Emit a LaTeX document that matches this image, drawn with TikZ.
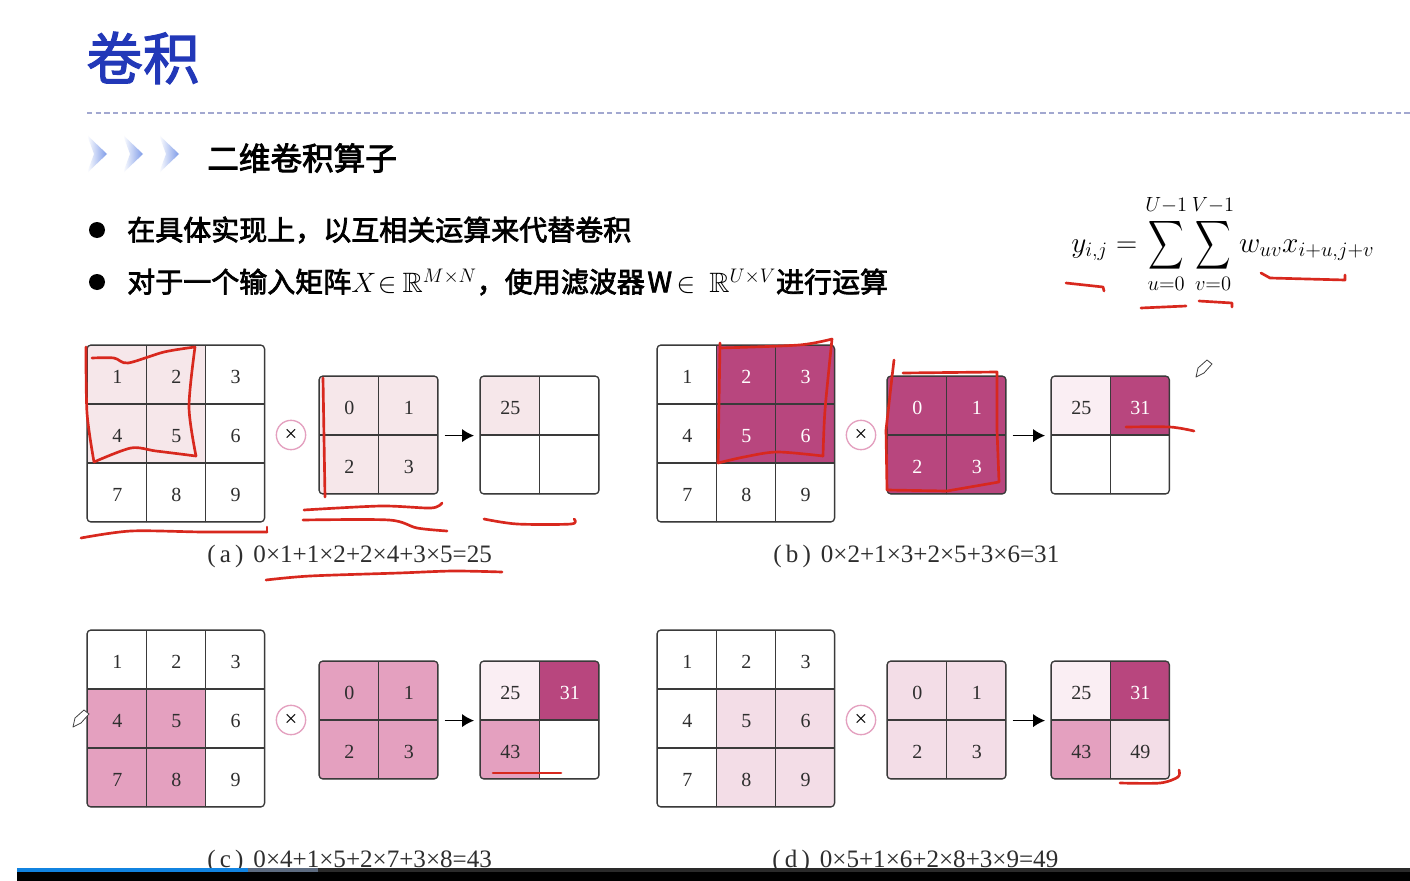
\RequirePackage{fix-cm}
\documentclass[tikz,border=0pt]{standalone}
\usepackage{amsmath,amssymb}
\usepackage{fontspec}
\setmainfont{Liberation Serif}
\newfontfamily\cjk[FakeBold=2.6]{Noto Sans CJK SC}
\newfontfamily\cjktitle[FakeBold=2]{Noto Sans CJK SC}
\usetikzlibrary{arrows.meta}
\definecolor{inkred}{HTML}{D8281E}
\definecolor{gridline}{HTML}{3A3A3A}
\definecolor{digit}{HTML}{2E2E2E}
\definecolor{titleblue}{HTML}{2238B8}
\definecolor{fillpale}{HTML}{F6E7EA}
\definecolor{fillfaint}{HTML}{FAEEF3}
\definecolor{filldark}{HTML}{B8467E}
\definecolor{fillmid}{HTML}{E4A0BF}
\definecolor{filllight}{HTML}{F3DDE7}
\definecolor{chevronblue}{HTML}{7E9BE8}
\definecolor{ruleblue}{HTML}{A2A8D0}
\definecolor{barblue}{HTML}{1183E0}
\definecolor{bargray}{HTML}{5D6B80}
\definecolor{bardark}{HTML}{2A2A2A}
\tikzset{
  gridcell/.style={draw=gridline,line width=0.9pt,inner sep=0pt,text=digit,font=\fontsize{15}{15}\selectfont},
  cnone/.style={fill=white},
  cpale/.style={fill=fillpale},
  cfaint/.style={fill=fillfaint},
  cdark/.style={fill=filldark,text=white},
  cmid/.style={fill=fillmid},
  clight/.style={fill=filllight},
  gridedge/.style={draw=gridline,line width=1pt,rounded corners=3pt},
  timesmark/.style={circle,draw=fillmid,fill=white,line width=1pt,minimum size=22pt,inner sep=0pt,text=black,font=\fontsize{17}{17}\selectfont},
  flowarrow/.style={line width=1.2pt,-{Latex[length=9pt,width=10pt]},shorten >=4pt,shorten <=4.5pt},
  redink/.style={draw=inkred,line width=2pt,line cap=round,line join=round},
  caption/.style={anchor=west,inner sep=0pt,text=digit,font=\fontsize{18.8}{19}\selectfont},
  bodyline/.style={anchor=west,inner sep=0pt,text=black,font=\cjk\fontsize{21}{21}\selectfont},
  pencilmark/.style={draw=black!75,fill=white,line width=0.6pt,line join=round},
  chevronmark/.style={left color=white,right color=chevronblue}
}
% name, x, y, cell width, cell height, cells per row, entries text/style
\newcommand{\cellgrid}[7]{%
  \begin{scope}
    \clip[rounded corners=3pt] (#2,#3) rectangle ++({#6*#4},{#6*#5});
    \foreach \t/\f [count=\i from 0] in {#7} {
      \pgfmathtruncatemacro{\cc}{mod(\i,#6)}
      \pgfmathtruncatemacro{\rr}{int(\i/#6)}
      \node[gridcell,\f,minimum width={#4*0.75pt},minimum height={#5*0.75pt}]
        (#1-\i) at ({#2+#4*(\cc+0.5)},{#3+#5*(\rr+0.5)}) {\raisebox{-1.5pt}[10pt][0pt]{\hspace{1pt}\t}};
    }
  \end{scope}
  \draw[gridedge] (#2,#3) rectangle ++({#6*#4},{#6*#5});
}
\newcommand{\pencilat}[2]{%
  \begin{scope}[shift={(#1,#2)}]
    \draw[pencilmark] (0,0) -- (2,-9) -- (11,-17) -- (16,-13) -- (8,-4) -- cycle;
  \end{scope}
}
\newcommand{\bigsum}[2]{\mathop{\vcenter{\hbox{\scalebox{0.84}[1.16]{$\displaystyle\sum$}}}}\limits_{#1}^{#2}}
\begin{document}
\begin{tikzpicture}[x=0.75pt,y=-0.75pt]
\path[use as bounding box,fill=white] (0,0) rectangle (1410,881);

% heading
\node[anchor=west,inner sep=0pt,text=titleblue,font=\cjktitle\fontsize{42.5}{43}\selectfont] (title) at (86,58) {卷积};
\draw[draw=ruleblue,line width=1pt,dash pattern=on 4pt off 2.5pt] (87,113) -- (1410,113);
\foreach \x in {87,123,159} {
  \shade[chevronmark] (\x,135) -- (\x+20,154) -- (\x,173) -- (\x+7,154) -- cycle;
}
\node[anchor=west,inner sep=0pt,text=black,font=\cjk\fontsize{23.7}{24}\selectfont] (subtitle) at (207,158) {二维卷积算子};

% bullets
\fill[black] (97,230) circle (6pt);
\fill[black] (97,282) circle (6pt);
\node[bodyline] (lineone) at (127,230) {在具体实现上，以互相关运算来代替卷积};
\node[bodyline] (linetwo) at (127,282) {对于一个输入矩阵$X\mskip1mu{\in}\mskip4mu\mathbb{R}^{M\times N}$，使用滤波器\hspace{2pt}W$\mskip3mu{\in}\mskip9mu\mathbb{R}^{U\times V}$进行运算};

% formula
\node[anchor=west,inner sep=0pt,text=black,font=\fontsize{22}{22}\selectfont] (formula) at (1071,244)
  {$y_{i,j}=\bigsum{u=0}{U-1}\bigsum{v=0}{V-1}w_{uv}x_{i+u,j+v}$};

% panel a
\cellgrid{a1}{87}{345}{59.2}{59}{3}{1/cpale,2/cpale,3/cnone,4/cpale,5/cpale,6/cnone,7/cnone,8/cnone,9/cnone}
\node[timesmark] (a2) at (291,435) {×};
\cellgrid{a3}{319}{376}{59.5}{59}{2}{0/cpale,1/cpale,2/cpale,3/cpale}
\cellgrid{a4}{480}{376}{59.5}{59}{2}{25/cpale,{}/cnone,{}/cnone,{}/cnone}
\draw[flowarrow] (a3-1.south east) -- (a4-0.south west);
\node[caption] (acap) at (207,556) {(\,a\,)\hspace{0.4em}0×1+1×2+2×4+3×5=25};

% panel b
\cellgrid{b1}{657}{345}{59.2}{59}{3}{1/cnone,2/cdark,3/cdark,4/cnone,5/cdark,6/cdark,7/cnone,8/cnone,9/cnone}
\node[timesmark] (b2) at (861,435) {×};
\cellgrid{b3}{887}{376}{59.5}{59}{2}{0/cdark,1/cdark,2/cdark,3/cdark}
\cellgrid{b4}{1051}{376}{59.2}{59}{2}{25/cfaint,31/cdark,{}/cnone,{}/cnone}
\draw[flowarrow] (b3-1.south east) -- (b4-0.south west);
\node[caption] (bcap) at (773,556) {(\,b\,)\hspace{0.4em}0×2+1×3+2×5+3×6=31};

% panel c
\cellgrid{c1}{87}{630}{59.2}{59}{3}{1/cnone,2/cnone,3/cnone,4/cmid,5/cmid,6/cnone,7/cmid,8/cmid,9/cnone}
\node[timesmark] (c2) at (291,720) {×};
\cellgrid{c3}{319}{661}{59.5}{59}{2}{0/cmid,1/cmid,2/cmid,3/cmid}
\cellgrid{c4}{480}{661}{59.5}{59}{2}{25/cfaint,31/cdark,43/cmid,{}/cnone}
\draw[flowarrow] (c3-1.south east) -- (c4-0.south west);
\node[caption] (ccap) at (207,861) {(\,c\,)\hspace{0.4em}0×4+1×5+2×7+3×8=43};

% panel d
\cellgrid{d1}{657}{630}{59.2}{59}{3}{1/cnone,2/cnone,3/cnone,4/cnone,5/clight,6/clight,7/cnone,8/clight,9/clight}
\node[timesmark] (d2) at (861,720) {×};
\cellgrid{d3}{887}{661}{59.5}{59}{2}{0/clight,1/clight,2/clight,3/clight}
\cellgrid{d4}{1051}{661}{59.2}{59}{2}{25/cfaint,31/cdark,43/cmid,49/clight}
\draw[flowarrow] (d3-1.south east) -- (d4-0.south west);
\node[caption] (dcap) at (772,861) {(\,d\,)\hspace{0.4em}0×5+1×6+2×8+3×9=49};

% hand-drawn red marks
\draw[redink] plot[smooth] coordinates {(92,358)(114,358)(128,363)(164,352)(195,347)};
\draw[redink] plot[smooth] coordinates {(195,347)(189,407)(196,456)};
\draw[redink] plot[smooth] coordinates {(196,456)(156,451)(131,448)(94,462)};
\draw[redink] plot[smooth] coordinates {(94,462)(87,413)(86,347)};
\draw[redink] (323,378) -- (325,497);
\draw[redink] plot[smooth] coordinates {(81,538)(131,531)(203,532)(267,532)};
\draw[redink] (267,532) -- (267,527);
\draw[redink] plot[smooth] coordinates {(304,510)(381,506)(431,508)(442,503)};
\draw[redink] plot[smooth] coordinates {(303,520)(389,520)(417,528)(447,531)};
\draw[redink] plot[smooth] coordinates {(484,519)(517,524)(571,524)(574,519)};
\draw[redink] plot[smooth] coordinates {(266,580)(310,576)(399,573)(453,571)(502,572)};
\draw[redink] plot[smooth] coordinates {(720,348)(799,345)(832,339)};
\draw[redink] plot[smooth] coordinates {(832,339)(825,410)(823,456)};
\draw[redink] plot[smooth] coordinates {(823,456)(777,452)(744,457)(718,463)};
\draw[redink] (718,463) -- (720,343);
\draw[redink] plot coordinates {(894,360)(892,377)(886,430)(887,490)(947,491)(999,482)(997,430)(997,372)(903,373)};
\draw[redink] plot[smooth] coordinates {(1126,427)(1170,427)(1194,431)};
\draw[redink] (493,773) -- (561,773);
\draw[redink] plot[smooth] coordinates {(1120,783)(1160,783)(1178,777)(1179,770)};
\draw[redink] plot coordinates {(1066,283)(1103,287)(1104,291)};
\draw[redink] (1141,308) -- (1186,306);
\draw[redink] plot coordinates {(1199,301)(1232,303)(1232,307)};
\draw[redink] plot coordinates {(1261,273)(1270,278)(1345,280)(1345,275)};

% pencil cursors
\pencilat{1196}{377}
\pencilat{73}{727}

% player bar
\fill[black] (17,868) rectangle (1410,881);
\fill[bardark] (318,868) rectangle (1410,872);
\fill[barblue] (17,868) rectangle (248,872);
\fill[bargray] (248,868) rectangle (318,872);
\end{tikzpicture}
\end{document}
